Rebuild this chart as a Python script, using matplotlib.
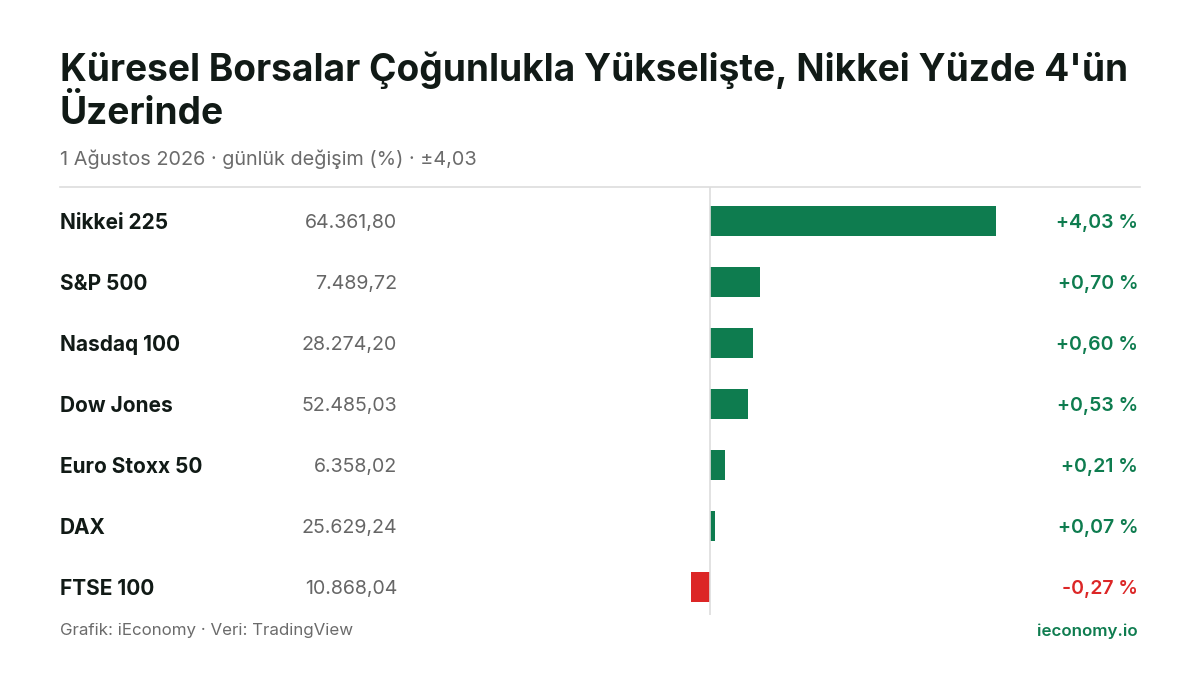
import matplotlib
matplotlib.use("Agg")
import matplotlib.pyplot as plt
from matplotlib.transforms import blended_transform_factory as btf

plt.rcParams['font.family'] = ['Inter', 'DejaVu Sans']

names = ["Nikkei 225", "S&P 500", "Nasdaq 100", "Dow Jones", "Euro Stoxx 50", "DAX", "FTSE 100"]
levels = ["64.361,80", "7.489,72", "28.274,20", "52.485,03", "6.358,02", "25.629,24", "10.868,04"]
changes = [4.03, 0.70, 0.60, 0.53, 0.21, 0.07, -0.27]

GREEN = "#0e7c4f"
RED = "#dc2626"
W, H = 1200, 675
fig = plt.figure(figsize=(12, 6.75), dpi=100)
fig.patch.set_facecolor("white")

def fx(px): return px / W
def fy(py): return 1 - py / H

fig.text(fx(60), fy(70), "Küresel Borsalar Çoğunlukla Yükselişte, Nikkei Yüzde 4'ün", fontsize=26.7, fontweight='bold', color="#111a16", va='center')
fig.text(fx(60), fy(114), "Üzerinde", fontsize=26.7, fontweight='bold', color="#111a16", va='center')
fig.text(fx(60), fy(159), "1 Ağustos 2026 · günlük değişim (%) · ±4,03", fontsize=14.3, color="#6b6b6b", va='center')
fig.add_artist(plt.Line2D([fx(60), fx(1140)], [fy(187), fy(187)], color="#dddddd", lw=1.2))

ax = fig.add_axes([fx(60), fy(615), fx(1080), (615 - 187) / H])
ax.set_xlim(-650 / 71, 430 / 71)
ax.set_ylim(6 + 28 / 61, -34 / 61)
ax.axis('off')
ax.axvline(0, color="#dddddd", lw=1.2)
ys = list(range(len(names)))
ax.barh(ys, changes, height=0.49, color=[GREEN if c >= 0 else RED for c in changes])

tr = btf(fig.transFigure, ax.transData)
for y, n, l, c in zip(ys, names, levels, changes):
    fig.text(fx(60), y + 0.03, n, transform=tr, fontsize=15, fontweight='bold', color="#111a16", va='center')
    fig.text(fx(397), y + 0.03, l, transform=tr, fontsize=14.1, color="#666666", va='center', ha='right')
    s = ("+" if c >= 0 else "") + f"{c:.2f}".replace(".", ",") + " %"
    fig.text(fx(1138), y + 0.03, s, transform=tr, fontsize=14, fontweight='semibold', color=GREEN if c >= 0 else RED, va='center', ha='right')

fig.text(fx(60), fy(631), "Grafik: iEconomy · Veri: TradingView", fontsize=12.2, color="#6b6b6b", va='center')
fig.text(fx(1138), fy(631), "ieconomy.io", fontsize=12.2, fontweight='semibold', color=GREEN, va='center', ha='right')

fig.savefig("out.png", dpi=100, facecolor="white")
